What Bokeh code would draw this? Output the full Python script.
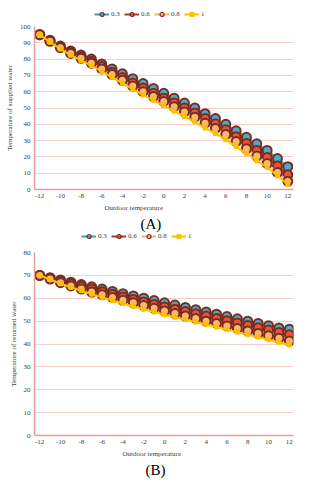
from bokeh.plotting import figure
from bokeh.models import Legend, LegendItem, FixedTicker, Range1d, Title
from bokeh.layouts import column
from bokeh.embed import file_html
from bokeh.resources import INLINE

outdoor = [-12, -11, -10, -9, -8, -7, -6, -5, -4, -3, -2, -1, 0, 1, 2, 3, 4, 5, 6, 7, 8, 9, 10, 11, 12]
series_names = ["0.3", "0.6", "0.8", "1"]
x_ticks = [-12, -10, -8, -6, -4, -2, 0, 2, 4, 6, 8, 10, 12]

supply_03 = [95, 91.5, 88, 85, 82.5, 80, 77, 74, 71, 68, 65, 62, 59, 56, 53, 50, 46.5, 43.5, 40, 36, 32, 28, 24, 19, 14]
supply_06 = [95, 91.2, 87.5, 84.2, 81.5, 78.7, 75.4, 72, 68.7, 65.4, 62.2, 59, 56, 53, 50, 47, 43.5, 40.3, 36.6, 32.4, 28.2, 24, 19.7, 14.4, 9]
supply_08 = [95, 90.9, 87, 83.5, 80.5, 77.5, 74, 70.5, 67, 63.5, 60, 57, 54, 50.8, 47.6, 44.4, 40.7, 37.5, 33.7, 29.4, 25, 20.5, 16, 10.5, 5]
supply_1 = [95, 90.5, 86.2, 82.4, 79.2, 76, 72.4, 68.8, 65.2, 61.6, 58, 54.7, 51.4, 48.1, 44.8, 41.5, 37.7, 34.4, 30.6, 26.3, 22, 17.8, 13.6, 8.4, 3.2]

return_03 = [70, 69, 68, 67, 66, 65, 64, 63, 62, 61, 60, 59, 58, 57, 56, 55, 54, 53, 52, 51, 50, 49, 48, 47, 46.5]
return_06 = [70, 68.7, 67.5, 66.3, 65.1, 64, 62.8, 61.7, 60.6, 59.5, 58.4, 57.3, 56.2, 55.2, 54.2, 53.2, 52.2, 51.2, 50.2, 49.2, 48.1, 47.1, 46.1, 45, 44]
return_08 = [70, 68.4, 66.8, 65.4, 64, 62.7, 61.5, 60.3, 59.1, 58, 56.8, 55.6, 54.4, 53.3, 52.2, 51.1, 50, 49, 47.9, 46.8, 45.7, 44.6, 43.6, 42.5, 41.3]
return_1 = [70, 68.2, 66.4, 64.8, 63.3, 61.8, 60.4, 59, 57.7, 56.4, 55.2, 54, 52.8, 51.7, 50.7, 49.6, 48.5, 47.4, 46.3, 45.2, 44.1, 43, 41.9, 40.8, 39.6]

LINE_COLORS = ["#4d9aa6", "#a8372b", "#f7b27c", "#ffc000"]
FILL_COLORS = ["#4bacc6", "#e8553d", "#fbb869", "#ffc000"]
OUTLINE = "#7a2c1e"
SERIF = "Liberation Serif"
AXIS_RED = "#e89c9c"
GRID = "#f6cfcf"


def draw_series(p, xs, ys, i, small=False):
    lr = p.line(xs, ys, line_color=LINE_COLORS[i], line_width=2)
    if i < 3:
        sr = p.scatter(xs, ys, marker="circle", size=5 if small else 9,
                       fill_color=FILL_COLORS[i], line_color=OUTLINE,
                       line_width=1.2 if small else 2)
    else:
        sr = p.scatter(xs, ys, marker="square", size=4,
                       fill_color=FILL_COLORS[i], line_color=LINE_COLORS[i], line_width=1)
    return lr, sr


def make_legend_fig(series, width, height, lx, ly):
    # legend strip; its renderers lie outside the visible range
    lf = figure(width=width, height=height, x_range=Range1d(100, 101), y_range=Range1d(0, 1),
                output_backend="svg", toolbar_location=None, min_border=0)
    lf.axis.visible = False
    lf.grid.visible = False
    lf.outline_line_color = None
    items = []
    for i, ys in enumerate(series):
        lr, sr = draw_series(lf, outdoor, ys, i, small=True)
        items.append(LegendItem(label=series_names[i], renderers=[lr, sr]))
    legend = Legend(items=items, orientation="horizontal", location=(lx, ly),
                    label_text_font=SERIF, label_text_font_size="7px",
                    label_text_color="#404040", glyph_width=15, glyph_height=10,
                    label_height=10, label_width=9, label_standoff=2, spacing=4,
                    padding=0, margin=0,
                    border_line_color=None, background_fill_alpha=0)
    lf.add_layout(legend, "center")
    return lf


def make_chart(series, y_max, y_label, panel_label, width, height,
               b_left, b_right, b_top, b_bottom, x_rng, xl_off, pl_off):
    p = figure(width=width, height=height,
               x_range=Range1d(*x_rng), y_range=Range1d(0, y_max),
               output_backend="svg", toolbar_location=None,
               min_border_left=b_left, min_border_right=b_right,
               min_border_top=b_top, min_border_bottom=b_bottom)
    p.outline_line_color = None
    p.xgrid.grid_line_color = None
    p.ygrid.grid_line_color = GRID
    p.ygrid.grid_line_width = 1

    p.yaxis.ticker = FixedTicker(ticks=list(range(0, y_max + 1, 10)))
    p.xaxis.ticker = FixedTicker(ticks=x_ticks)
    p.xaxis.major_label_overrides = {t: str(t) for t in x_ticks}
    for ax in (p.xaxis, p.yaxis):
        ax.axis_line_color = AXIS_RED
        ax.axis_line_width = 1.5
        ax.major_tick_line_color = None
        ax.minor_tick_line_color = None
        ax.major_tick_out = 0
        ax.major_tick_in = 0
        ax.minor_tick_out = 0
        ax.major_label_text_font = SERIF
        ax.major_label_text_font_size = "7px"
        ax.major_label_text_color = "#404040"
        ax.major_label_standoff = 4
    p.yaxis.axis_label = y_label
    p.yaxis.axis_label_text_font = SERIF
    p.yaxis.axis_label_text_font_size = "7px"
    p.yaxis.axis_label_text_font_style = "normal"
    p.yaxis.axis_label_text_color = "#404040"
    p.yaxis.axis_label_standoff = 3

    xt = Title(text="Outdoor temperature", align="left", offset=xl_off,
               text_font=SERIF, text_font_size="7px", text_font_style="normal",
               text_color="#404040", standoff=2)
    p.add_layout(xt, "below")
    pt = Title(text=panel_label, align="left", offset=pl_off,
               text_font=SERIF, text_font_size="15px", text_font_style="normal",
               text_color="#000000", standoff=2)
    p.add_layout(pt, "below")

    for i, ys in enumerate(series):
        draw_series(p, outdoor, ys, i)
    return p


supply = [supply_03, supply_06, supply_08, supply_1]
ret = [return_03, return_06, return_08, return_1]

la = make_legend_fig(supply, 316, 22, 60, 3)
pa = make_chart(supply, 100, "Temperature of supplied water", "(A)", 316, 210,
                34, 23, 4, 43, (-12.5, 12.55), 70, 106)
lb = make_legend_fig(ret, 316, 16, 47, 7)
pb = make_chart(ret, 80, "Temperature of returned water", "(B)", 316, 232,
                28, 20, 4, 45, (-12.5, 12.4), 88, 111)

layout = column(la, pa, lb, pb, spacing=0)
open("out.html", "w").write(file_html(layout, INLINE))
